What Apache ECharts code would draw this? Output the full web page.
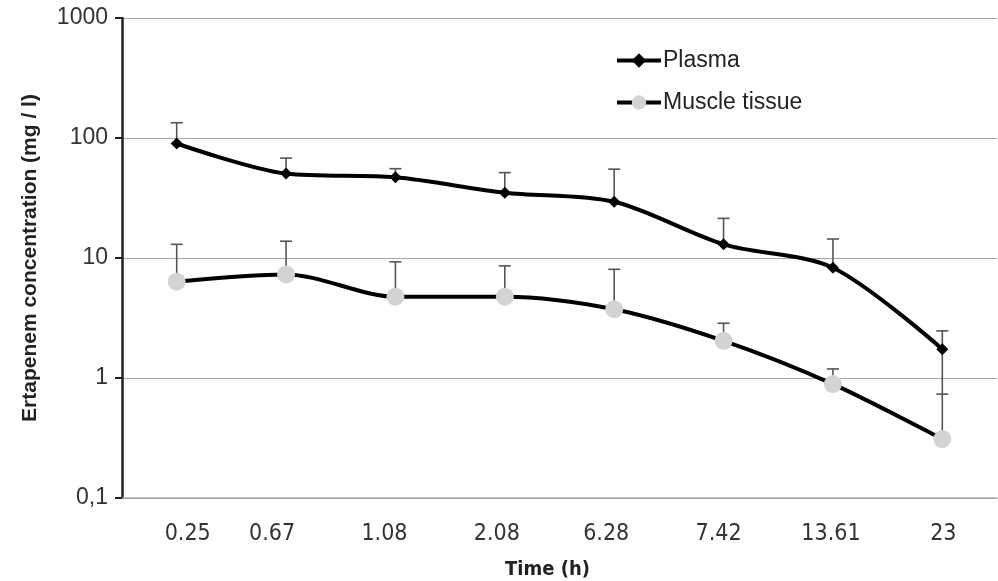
<!DOCTYPE html>
<html>
<head>
<meta charset="utf-8">
<script src="https://cdn.jsdelivr.net/npm/echarts@6/dist/echarts.min.js"></script>
<style>html,body{margin:0;padding:0;background:#fff;}#c{width:998px;height:581px;}</style>
</head>
<body>
<div id="c"></div>
<script>
var categories = ['0.25', '0.67', '1.08', '2.08', '6.28', '7.42', '13.61', '23'];
var plasmaMean = [90, 50.5, 47, 35, 29.4, 13.0, 8.3, 1.74];
var plasmaUpper = [134, 68, 55.5, 51.5, 55, 21.4, 14.4, 2.47];
var plasmaLower = [null, null, null, null, null, null, null, 0.734];
var muscleMean = [6.35, 7.3, 4.76, 4.76, 3.74, 2.04, 0.89, 0.31];
var muscleUpper = [13.0, 13.8, 9.3, 8.6, 8.05, 2.86, 1.19, 0.734];
var yTicks = [0.1, 1, 10, 100, 1000];
var yTickLabels = ['0,1', '1', '10', '100', '1000'];

// horizontal nudges of the x tick labels, as in the original layout (style only)
var labelNudge = [11, -14, -11, -8, -8, -5, -2, 1];

function errData(mean, upper, lower) {
  return mean.map(function (m, i) {
    return [i, m, upper[i], lower ? lower[i] : null];
  });
}

function renderErr(params, api) {
  var i = api.value(0);
  var p = api.coord([i, api.value(1)]);
  var up = api.coord([i, api.value(2)]);
  var children = [];
  var st = { stroke: '#555', lineWidth: 1.6 };
  children.push({ type: 'line', shape: { x1: p[0], y1: p[1], x2: up[0], y2: up[1] }, style: st });
  children.push({ type: 'line', shape: { x1: up[0] - 6, y1: up[1], x2: up[0] + 6, y2: up[1] }, style: st });
  var lv = api.value(3);
  if (lv !== null && !isNaN(lv) && lv > 0) {
    var lo = api.coord([i, lv]);
    children.push({ type: 'line', shape: { x1: p[0], y1: p[1], x2: lo[0], y2: lo[1] }, style: st });
  }
  return { type: 'group', children: children };
}

var narrow = 'DejaVu Sans Condensed, Liberation Sans Narrow, Liberation Sans, sans-serif';
var arial = 'Liberation Sans, Arial, sans-serif';

var rich = {};
labelNudge.forEach(function (d, i) {
  rich['n' + i] = {
    fontFamily: narrow, fontSize: 23, color: '#333',
    padding: d >= 0 ? [0, 0, 0, 2 * d] : [0, -2 * d, 0, 0]
  };
});

var chart = echarts.init(document.getElementById('c'));
chart.setOption({
  animation: false,
  backgroundColor: '#fff',
  grid: { left: 122, right: 1, top: 18, bottom: 83, containLabel: false, outerBoundsMode: 'none' },
  legend: {
    orient: 'vertical',
    left: 610,
    top: 44,
    itemWidth: 44,
    itemHeight: 18,
    itemGap: 19,
    lineStyle: { width: 4 },
    textStyle: { fontFamily: arial, fontSize: 23, color: '#222', padding: [0, 0, 0, -3] },
    data: ['Plasma', 'Muscle tissue']
  },
  xAxis: {
    type: 'category',
    data: categories,
    boundaryGap: true,
    name: 'Time (h)',
    nameLocation: 'middle',
    nameGap: 62,
    nameTextStyle: { fontFamily: narrow, fontWeight: 'bold', fontSize: 20, color: '#222', padding: [0, 24, 0, 0] },
    axisLine: { lineStyle: { color: '#aaa', width: 1.5 } },
    axisTick: { show: false },
    axisLabel: {
      interval: 0, margin: 25, fontFamily: narrow, fontSize: 23, color: '#333', rich: rich,
      formatter: function (v, idx) { return '{n' + idx + '|' + v + '}'; }
    },
    splitLine: { show: false }
  },
  yAxis: {
    type: 'log',
    logBase: 10,
    min: 0.1,
    max: 1000,
    name: 'Ertapenem concentration (mg / l)',
    nameLocation: 'middle',
    nameGap: 81,
    nameTextStyle: { fontFamily: arial, fontWeight: 'bold', fontSize: 21, color: '#222' },
    axisLine: { show: true, lineStyle: { color: '#222', width: 2.5 } },
    axisTick: { show: true, inside: false, length: 7, lineStyle: { color: '#222', width: 2 } },
    axisLabel: {
      margin: 14,
      fontFamily: arial,
      fontSize: 23,
      color: '#333',
      formatter: function (v) {
        for (var k = 0; k < yTicks.length; k++) {
          if (Math.abs(Math.log10(v) - Math.log10(yTicks[k])) < 1e-6) return yTickLabels[k];
        }
        return '';
      }
    },
    splitLine: { show: true, lineStyle: { color: '#a6a6a6', width: 1.2 } }
  },
  series: [
    {
      name: 'PlasmaErr', type: 'custom', renderItem: renderErr,
      data: errData(plasmaMean, plasmaUpper, plasmaLower), z: 1, silent: true
    },
    {
      name: 'MuscleErr', type: 'custom', renderItem: renderErr,
      data: errData(muscleMean, muscleUpper, null), z: 1, silent: true
    },
    {
      name: 'Plasma', type: 'line', data: plasmaMean, smooth: 0.3,
      symbol: 'diamond', symbolSize: 12,
      lineStyle: { color: '#000', width: 4 },
      itemStyle: { color: '#000' }, z: 3
    },
    {
      name: 'Muscle tissue', type: 'line', data: muscleMean, smooth: 0.3,
      symbol: 'circle', symbolSize: 18,
      lineStyle: { color: '#000', width: 4 },
      itemStyle: { color: '#d3d3d3', borderWidth: 0 }, z: 3
    }
  ]
});
</script>
</body>
</html>
